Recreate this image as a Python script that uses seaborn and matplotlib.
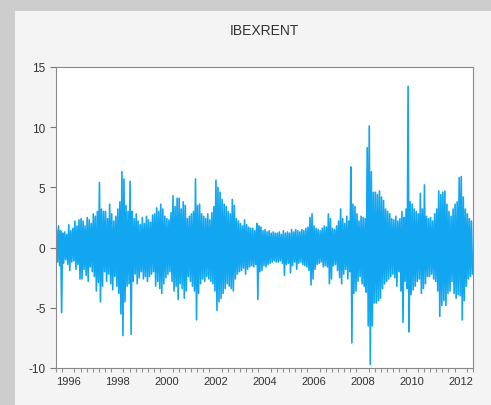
import numpy as np
import pandas as pd
import matplotlib
matplotlib.use("Agg")
import matplotlib.pyplot as plt
import seaborn as sns
from matplotlib.patches import Rectangle
from matplotlib.ticker import FixedLocator, MultipleLocator

# %% data (monthly high / low of the daily IBEX return)

years = list(range(1996, 2013))

month_high = [
    1.5, 1.8, 1.4, 1.2, 1.3, 1.1, 1.9, 1.4, 1.6, 2.2, 1.8, 2.3,    # 1996
    2.4, 2.2, 1.8, 2.5, 2.3, 2.0, 2.8, 2.6, 3.0, 5.4, 3.2, 3.0,    # 1997
    3.0, 2.4, 3.6, 2.8, 2.2, 2.6, 3.2, 3.8, 6.3, 5.7, 3.5, 3.0,    # 1998
    5.5, 3.0, 2.4, 2.8, 2.2, 1.9, 2.5, 2.0, 2.6, 2.3, 2.1, 2.7,    # 1999
    2.8, 3.3, 3.0, 3.6, 3.2, 2.6, 2.4, 2.3, 2.9, 4.3, 3.4, 4.1,    # 2000
    4.1, 3.2, 3.8, 3.5, 2.4, 2.6, 2.8, 3.0, 5.7, 3.5, 3.6, 2.8,    # 2001
    2.6, 2.4, 2.8, 2.3, 2.9, 3.4, 5.6, 5.0, 4.6, 4.0, 3.6, 3.4,    # 2002
    3.0, 2.8, 4.0, 3.5, 2.4, 2.2, 2.0, 1.8, 2.3, 1.9, 1.7, 1.6,    # 2003
    1.6, 1.4, 2.0, 1.8, 1.7, 1.4, 1.5, 1.3, 1.4, 1.2, 1.3, 1.2,    # 2004
    1.2, 1.3, 1.1, 1.4, 1.2, 1.3, 1.2, 1.5, 1.3, 1.5, 1.4, 1.3,    # 2005
    1.5, 1.4, 1.6, 1.7, 2.5, 2.8, 1.8, 1.6, 1.5, 1.4, 1.6, 1.8,    # 2006
    1.7, 2.8, 2.4, 1.6, 1.5, 1.8, 2.2, 3.2, 2.4, 2.0, 2.6, 2.2,    # 2007
    6.7, 3.6, 3.4, 2.8, 2.2, 2.6, 2.5, 2.4, 8.3, 10.1, 6.3, 4.6,   # 2008
    4.6, 4.4, 4.7, 4.2, 3.9, 3.2, 3.0, 2.8, 2.4, 2.3, 2.6, 2.2,    # 2009
    2.4, 3.0, 2.5, 3.2, 13.4, 3.8, 3.6, 3.2, 3.0, 2.8, 4.5, 3.2,   # 2010
    5.2, 2.6, 2.4, 2.5, 2.2, 2.8, 3.2, 4.7, 4.4, 4.6, 4.7, 3.6,    # 2011
    3.0, 2.6, 3.2, 3.6, 3.8, 5.8, 5.9, 4.2, 3.2, 2.8, 2.4, 2.2,    # 2012
]

month_low = [
    -1.2, -1.5, -5.4, -1.3, -1.0, -1.4, -1.9, -1.2, -1.1, -1.8, -1.4, -2.6,   # 1996
    -2.6, -1.8, -2.3, -2.8, -1.6, -2.0, -2.4, -3.6, -2.9, -4.5, -3.2, -2.0,   # 1997
    -2.8, -2.2, -3.0, -3.5, -2.4, -3.2, -3.8, -5.5, -7.3, -4.5, -3.2, -3.0,   # 1998
    -7.2, -2.8, -2.2, -3.0, -2.5, -2.0, -2.6, -2.4, -2.8, -2.4, -2.2, -2.0,   # 1999
    -3.2, -2.8, -3.4, -3.8, -3.0, -2.5, -2.2, -2.0, -2.8, -3.6, -3.2, -4.3,   # 2000
    -3.0, -3.4, -4.2, -3.6, -2.4, -2.8, -3.2, -3.6, -6.0, -3.8, -3.0, -2.6,   # 2001
    -2.8, -2.4, -2.6, -2.8, -3.0, -3.6, -5.2, -4.5, -4.2, -3.8, -3.4, -3.0,   # 2002
    -3.2, -3.4, -3.6, -2.6, -2.2, -2.0, -1.9, -1.7, -2.2, -1.8, -1.6, -1.5,   # 2003
    -1.6, -1.4, -4.3, -2.0, -1.9, -1.5, -1.6, -1.4, -1.3, -1.2, -1.1, -1.2,   # 2004
    -1.2, -1.1, -1.3, -2.3, -1.4, -1.3, -2.1, -1.5, -1.2, -1.8, -1.3, -1.2,   # 2005
    -1.4, -1.5, -1.6, -1.9, -3.1, -2.6, -1.8, -1.4, -1.3, -1.2, -1.6, -1.5,   # 2006
    -1.6, -3.0, -2.6, -1.5, -1.4, -1.9, -2.5, -3.0, -2.2, -1.8, -2.6, -2.0,   # 2007
    -7.9, -3.8, -3.6, -2.8, -2.4, -3.0, -3.2, -3.7, -6.5, -9.7, -6.5, -4.6,   # 2008
    -4.6, -4.4, -4.2, -3.4, -3.0, -2.8, -2.6, -2.4, -2.2, -2.5, -3.2, -2.0,   # 2009
    -3.6, -6.2, -2.8, -3.4, -7.0, -3.9, -3.5, -3.2, -2.8, -2.6, -3.8, -3.4,   # 2010
    -3.0, -2.4, -2.4, -2.2, -2.6, -2.8, -3.6, -5.7, -4.8, -4.4, -4.8, -3.8,   # 2011
    -3.6, -2.8, -3.8, -4.2, -3.9, -4.0, -6.0, -4.4, -3.2, -2.6, -2.4, -2.2,   # 2012
]

year_labels = [str(y) for y in years if y % 2 == 0]

# %% build line (high / low alternating inside each month)

n_months = len(month_high)
t = np.repeat(years[0] + np.arange(n_months) / 12.0, 2) + np.tile([0.25, 0.75], n_months) / 12.0
vals = np.column_stack([month_high, month_low]).ravel()
df = pd.DataFrame({"t": t, "IBEXRENT": vals})

# %% plot

sns.set_style("white")
plt.rcParams["font.family"] = ["Liberation Sans", "DejaVu Sans"]
plt.rcParams["axes.unicode_minus"] = False

fig = plt.figure(figsize=(4.91, 4.06), dpi=100, facecolor="#cdcdcd")
panel = Rectangle((15 / 491, 0), 1, 1 - 12 / 406, transform=fig.transFigure,
                  facecolor="#f4f4f4", edgecolor="none", zorder=-10)
fig.add_artist(panel)

ax = fig.add_axes([56 / 491, 1 - 369 / 406, (473 - 56) / 491, (369 - 68) / 406])
ax.set_facecolor("white")
ax.set_zorder(5)

sns.lineplot(data=df, x="t", y="IBEXRENT", ax=ax, color="#12a6f0",
             linewidth=1.2, estimator=None, sort=False)

ax.set_xlim(years[0], years[-1] + 1)
ax.set_ylim(-10, 15)
ax.set_yticks([-10, -5, 0, 5, 10, 15])

ax.xaxis.set_major_locator(FixedLocator([y + 0.5 for y in years if y % 2 == 0]))
ax.set_xticklabels(year_labels)
ax.xaxis.set_minor_locator(MultipleLocator(0.25))
ax.tick_params(axis="x", which="major", length=0, labelsize=8, colors="#333333", pad=6)
ax.tick_params(axis="x", which="minor", length=3, color="#777777", direction="out", bottom=True)
ax.tick_params(axis="y", length=4, color="#777777", labelsize=8.5, colors="#333333", left=True)

for s in ax.spines.values():
    s.set_color("#8a8a8a")
    s.set_linewidth(0.8)

ax.set_xlabel("")
ax.set_ylabel("")
ax.set_title("IBEXRENT", fontsize=10, color="#333333", pad=24)

fig.savefig("out.png", dpi=100, facecolor=fig.get_facecolor())
